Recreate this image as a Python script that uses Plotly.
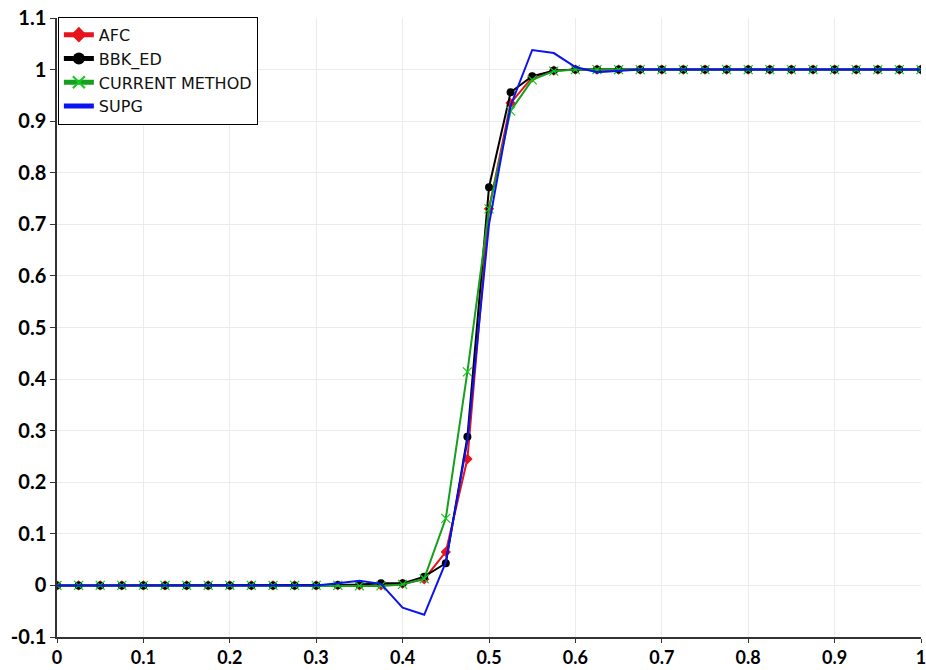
import plotly.graph_objects as go

x_vals = [0.0, 0.025, 0.05, 0.075, 0.1, 0.125, 0.15, 0.175, 0.2, 0.225,
          0.25, 0.275, 0.3, 0.325, 0.35, 0.375, 0.4, 0.425, 0.45, 0.475,
          0.5, 0.525, 0.55, 0.575, 0.6, 0.625, 0.65, 0.675, 0.7, 0.725,
          0.75, 0.775, 0.8, 0.825, 0.85, 0.875, 0.9, 0.925, 0.95, 0.975, 1.0]

afc = [0, 0, 0, 0, 0, 0, 0, 0, 0, 0,
       0, 0, 0, 0, 0, 0, 0.003, 0.012, 0.065, 0.245,
       0.73, 0.935, 0.985, 0.998, 1, 1, 1, 1, 1, 1,
       1, 1, 1, 1, 1, 1, 1, 1, 1, 1, 1]

bbk_ed = [0, 0, 0, 0, 0, 0, 0, 0, 0, 0,
          0, 0, 0, 0.001, 0.002, 0.004, 0.004, 0.017, 0.043, 0.288,
          0.772, 0.956, 0.987, 0.998, 1, 1, 1, 1, 1, 1,
          1, 1, 1, 1, 1, 1, 1, 1, 1, 1, 1]

current = [0, 0, 0, 0, 0, 0, 0, 0, 0, 0,
           0, 0, 0, 0, -0.001, -0.001, 0.002, 0.013, 0.13, 0.414,
           0.73, 0.92, 0.98, 0.997, 1, 1, 1, 1, 1, 1,
           1, 1, 1, 1, 1, 1, 1, 1, 1, 1, 1]

supg = [0, 0, 0, 0, 0, 0, 0, 0, 0, 0,
        0, 0, 0, 0.004, 0.009, 0.003, -0.043, -0.057, 0.045, 0.28,
        0.70, 0.93, 1.038, 1.032, 1.005, 0.995, 0.997, 1, 1, 1,
        1, 1, 1, 1, 1, 1, 1, 1, 1, 1, 1]

x_ticks = [0, 0.1, 0.2, 0.3, 0.4, 0.5, 0.6, 0.7, 0.8, 0.9, 1]
x_tick_text = ["0", "0.1", "0.2", "0.3", "0.4", "0.5", "0.6", "0.7", "0.8", "0.9", "1"]
y_ticks = [-0.1, 0, 0.1, 0.2, 0.3, 0.4, 0.5, 0.6, 0.7, 0.8, 0.9, 1, 1.1]
y_tick_text = ["-0.1", "0", "0.1", "0.2", "0.3", "0.4", "0.5", "0.6", "0.7", "0.8", "0.9", "1", "1.1"]

fig = go.Figure()
fig.add_trace(go.Scatter(x=x_vals, y=afc, name="AFC", mode="lines+markers",
                         line=dict(color="#e8141c", width=2),
                         marker=dict(symbol="diamond", size=8, color="#e8141c")))
fig.add_trace(go.Scatter(x=x_vals, y=bbk_ed, name="BBK_ED", mode="lines+markers",
                         line=dict(color="black", width=2),
                         marker=dict(symbol="circle", size=8, color="black")))
fig.add_trace(go.Scatter(x=x_vals, y=current, name="CURRENT METHOD", mode="lines+markers",
                         line=dict(color="#14a01e", width=2),
                         marker=dict(symbol="x-thin", size=9,
                                     line=dict(color="#14c81e", width=1.2))))
fig.add_trace(go.Scatter(x=x_vals, y=supg, name="SUPG", mode="lines",
                         line=dict(color="#0a14f0", width=2)))

tick_font = dict(family="Lato, sans-serif", size=18, color="black", weight="bold")

fig.update_layout(
    width=926, height=670,
    margin=dict(l=57, r=5, t=18, b=33, autoexpand=False),
    paper_bgcolor="white", plot_bgcolor="white",
    showlegend=True,
    legend=dict(x=0.001, y=1.002, xanchor="left", yanchor="top",
                bgcolor="white", bordercolor="black", borderwidth=1,
                font=dict(family="DejaVu Sans, sans-serif", size=16, color="#111"),
                tracegroupgap=0, itemsizing="constant"),
)
fig.update_xaxes(range=[0, 1], tickvals=x_ticks, ticktext=x_tick_text,
                 showgrid=True, gridcolor="#ebebeb", gridwidth=1,
                 showline=True, linecolor="#333", linewidth=1.5,
                 ticks="outside", ticklen=4, tickcolor="#333",
                 zeroline=False, automargin=False, ticklabeloverflow="allow",
                 tickfont=tick_font)
fig.update_yaxes(range=[-0.1, 1.1], tickvals=y_ticks, ticktext=y_tick_text,
                 showgrid=True, gridcolor="#ebebeb", gridwidth=1,
                 showline=True, linecolor="#333", linewidth=1.5,
                 ticks="outside", ticklen=5, tickcolor="#333",
                 zeroline=False, automargin=False, ticklabeloverflow="allow",
                 tickfont=dict(family="Lato, sans-serif", size=20, color="black", weight="bold"))

fig.write_html("out.html")
